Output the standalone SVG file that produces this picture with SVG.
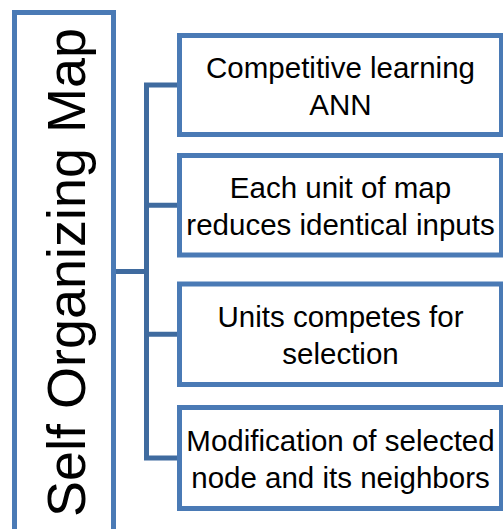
<svg xmlns="http://www.w3.org/2000/svg" width="503" height="529" viewBox="0 0 503 529">
<style>
.box{fill:#ffffff;stroke:#4A7AB5;stroke-width:5}
.con{fill:none;stroke:#3F6B9F;stroke-width:5;stroke-linejoin:miter;stroke-linecap:butt}
.t{font-family:"Liberation Sans",Arial,sans-serif;font-size:29.5px;fill:#000;text-anchor:middle}
.title{font-family:"Liberation Sans",Arial,sans-serif;font-size:54px;fill:#000;text-anchor:middle}
</style>
<rect x="0" y="0" width="503" height="529" fill="#ffffff"/>
<g id="connectors">
<path class="con" d="M113.5,271.5 H146.5"/>
<path class="con" d="M179.5,85 H146.5 V458 H179.5"/>
<path class="con" d="M146.5,205.25 H179.5"/>
<path class="con" d="M146.5,334.25 H179.5"/>
</g>
<g id="root">
<rect class="box" x="14.5" y="12.5" width="99" height="530"/>
<text class="title" transform="translate(85,272.5) rotate(-90)" x="0" y="0" textLength="489" lengthAdjust="spacingAndGlyphs">Self Organizing Map</text>
</g>
<g id="node1">
<rect class="box" x="179.5" y="35.5" width="322" height="99"/>
<text class="t" x="340.5" y="78">Competitive learning</text>
<text class="t" x="340.5" y="115">ANN</text>
</g>
<g id="node2">
<rect class="box" x="179.5" y="155.5" width="322" height="99.5"/>
<text class="t" x="340.5" y="198">Each unit of map</text>
<text class="t" x="340.5" y="235">reduces identical inputs</text>
</g>
<g id="node3">
<rect class="box" x="179.5" y="284" width="322" height="100.5"/>
<text class="t" x="340.5" y="327">Units competes for</text>
<text class="t" x="340.5" y="364">selection</text>
</g>
<g id="node4">
<rect class="box" x="179.5" y="407.5" width="322" height="101"/>
<text class="t" x="340.5" y="451">Modification of selected</text>
<text class="t" x="340.5" y="488">node and its neighbors</text>
</g>
</svg>
